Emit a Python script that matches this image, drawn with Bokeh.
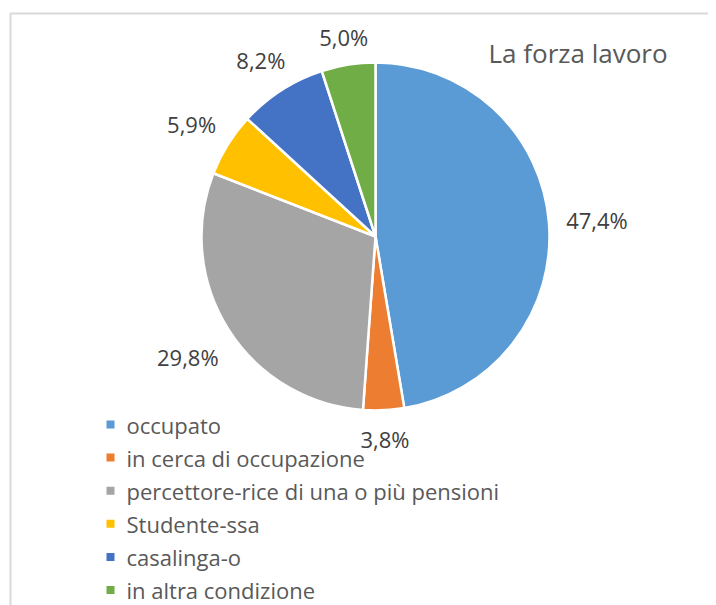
import math
from bokeh.plotting import figure
from bokeh.models import Range1d, ColumnDataSource
from bokeh.core.properties import value
from bokeh.embed import file_html
from bokeh.resources import INLINE

# ---- data ----
categories = ["occupato", "in cerca di occupazione", "percettore-rice di una o più pensioni",
              "Studente-ssa", "casalinga-o", "in altra condizione"]
percent = [47.4, 3.8, 29.8, 5.9, 8.2, 5.0]
colors = ["#5B9BD5", "#ED7D31", "#A5A5A5", "#FFC000", "#4472C4", "#70AD47"]
title = "La forza lavoro"

W, H = 708, 605
FONT = "Open Sans"

def X(sx):
    return sx

def Y(sy):
    return H - sy

p = figure(width=W, height=H, output_backend="svg", toolbar_location=None,
           x_range=Range1d(0, W), y_range=Range1d(0, H), min_border=0)
p.axis.visible = False
p.grid.visible = False
p.outline_line_color = None
p.background_fill_color = "white"
p.border_fill_color = "white"

# chart area border (partially cropped)
p.quad(left=[X(10)], right=[X(760)], top=[Y(13)], bottom=[Y(660)],
       fill_alpha=0, line_color="#D9D9D9", line_width=2)

# ---- pie ----
cx, cy, R = X(375), Y(236), 174
total = sum(percent)
starts, ends, mids = [], [], []
cum = 0.0
for v in percent:
    a0 = math.pi / 2 - 2 * math.pi * cum / total
    cum += v
    a1 = math.pi / 2 - 2 * math.pi * cum / total
    starts.append(a0)
    ends.append(a1)
    mids.append((a0 + a1) / 2)

src = ColumnDataSource(dict(start=starts, end=ends, color=colors))
p.wedge(x=cx, y=cy, radius=R, start_angle="start", end_angle="end",
        direction="clock", fill_color="color", line_color="white", line_width=2.5,
        source=src)

# ---- data labels ----
lab_text = [("%.1f%%" % v).replace(".", ",") for v in percent]
lx, ly = [], []
gap = 16
for t, m in zip(lab_text, mids):
    ux, uy = math.cos(m), math.sin(m)
    w = 12.6 * len(t)
    h = 20
    d = R + gap + (w / 2) * abs(ux) + (h / 2) * abs(uy)
    lx.append(cx + d * ux)
    ly.append(cy + d * uy - 2)
p.text(x=lx, y=ly, text=lab_text, text_align="center", text_baseline="middle",
       text_font=value(FONT), text_font_size="22px", text_color="#404040")

# ---- title ----
p.text(x=[X(488)], y=[Y(52)], text=[title], text_align="left", text_baseline="middle",
       text_font=value(FONT), text_font_size="26px", text_color="#595959")

# ---- legend ----
row0, step = 424, 33.1
leg_y = [Y(row0 + i * step) for i in range(len(categories))]
p.scatter(x=[X(110)] * len(categories), y=leg_y, marker="square", size=8,
          fill_color=colors, line_color=None)
p.text(x=[X(126)] * len(categories), y=leg_y, text=categories, text_align="left",
       text_baseline="middle", text_font=value(FONT), text_font_size="22px",
       text_color="#595959")

open("out.html", "w").write(file_html(p, INLINE))
